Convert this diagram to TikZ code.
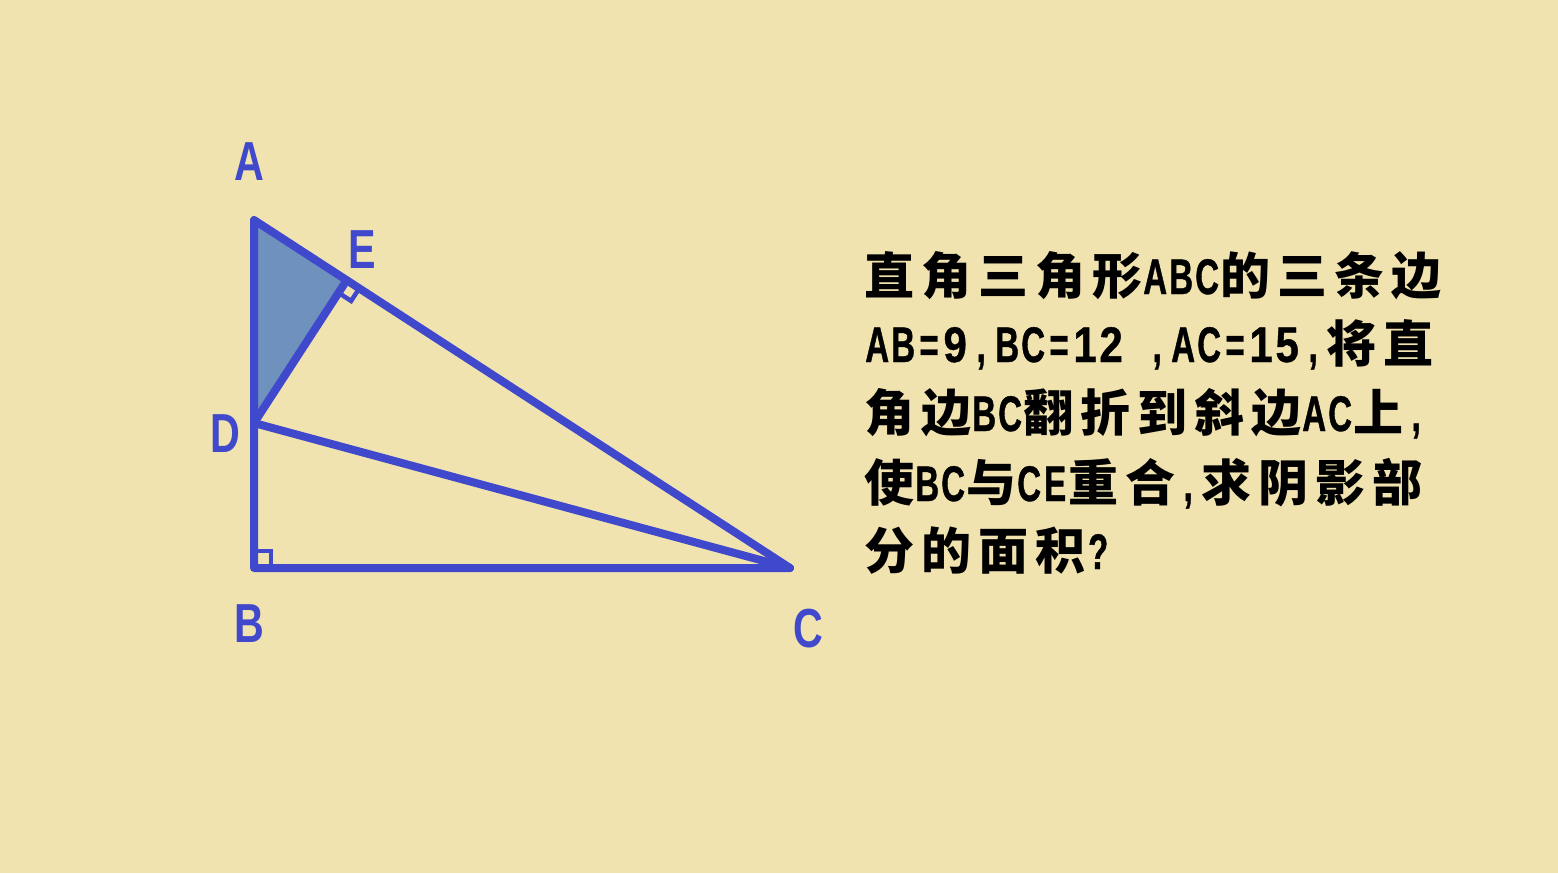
\documentclass[tikz,border=0pt]{standalone}
\usepackage{fontspec}
\usetikzlibrary{calc}
\newfontfamily\cjk[LetterSpace=14]{Noto Sans CJK SC}
\newfontfamily\latf[FakeStretch=0.66,FakeBold=0.8]{Liberation Sans}
\newfontfamily\digf[FakeStretch=0.84,FakeBold=0.8]{Liberation Sans}
\def\monoloop#1{\ifx#1\relax\else
  \ifnum`#1>47 \ifnum`#1<58 \makebox[26pt]{\digf#1}\else\makebox[26pt]{#1}\fi
  \else\makebox[26pt]{#1}\fi
  \expandafter\monoloop\fi}
\newcommand\lt[1]{{\latf\fontsize{50}{50}\selectfont\monoloop#1\relax}}
\newfontfamily\lab[FakeStretch=0.75]{Liberation Sans}
\definecolor{bg}{RGB}{240,227,176}
\definecolor{ln}{RGB}{64,72,204}
\definecolor{sh}{RGB}{110,145,190}
\tikzset{
  edge/.style={draw=ln,line width=8pt,line join=round,line cap=round},
  rmark/.style={draw=ln,line width=4.5pt,line join=miter},
  lbl/.style={text=ln,font=\lab\bfseries\fontsize{55}{55}\selectfont,anchor=base,inner sep=0pt},
  txt/.style={text=black,font=\bfseries\fontsize{50}{50}\selectfont,anchor=base west,inner sep=0pt}
}
\begin{document}
\begin{tikzpicture}[x=1pt,y=-1pt]
\path[fill=bg] (0,0) rectangle (1558,873);
\useasboundingbox (0,0) rectangle (1558,873);
\coordinate (A) at (254,220);
\coordinate (B) at (254,568);
\coordinate (C) at (790,568);
\coordinate (D) at (254,423);
\coordinate (E) at ($(A)!(D)!(C)$);
\fill[sh] (A) -- (E) -- (D) -- cycle;
\draw[edge] (A) -- (B) -- (C) -- cycle;
\draw[edge] (D) -- (E);
\draw[edge] (D) -- (C);
\coordinate (e1) at ($(E)!15pt!(C)$);
\coordinate (e2) at ($(E)!15pt!(D)$);
\coordinate (e3) at ($(e1)+(e2)-(E)$);
\draw[rmark] (e1) -- (e3) -- (e2);
\coordinate (b1) at ($(B)!17pt!(C)$);
\coordinate (b2) at ($(B)!17pt!(A)$);
\coordinate (b3) at ($(b1)+(b2)-(B)$);
\draw[rmark] (b1) -- (b3) -- (b2);
\node[lbl] (lA) at (249,180) {A};
\node[lbl] (lE) at (362,268) {E};
\node[lbl] (lD) at (225,452) {D};
\node[lbl] (lB) at (249,642) {B};
\node[lbl] (lC) at (808,647) {C};
\node[txt] (t1) at (864,294) {\cjk 直角三角形\lt{ABC}\cjk 的三条边};
\node[txt] (t2) at (864,362) {\lt{AB=9,BC=12}\hspace{20pt}\lt{,AC=15,}\cjk 将直};
\node[txt] (t3) at (864,431) {\cjk 角边\lt{BC}\cjk 翻折到斜边\lt{AC}\cjk 上\lt{,}};
\node[txt] (t4) at (864,501) {\cjk 使\lt{BC}\cjk 与\lt{CE}\cjk 重合\lt{,}\cjk 求阴影部};
\node[txt] (t5) at (864,569) {\cjk 分的面积\lt{?}};
\end{tikzpicture}
\end{document}
